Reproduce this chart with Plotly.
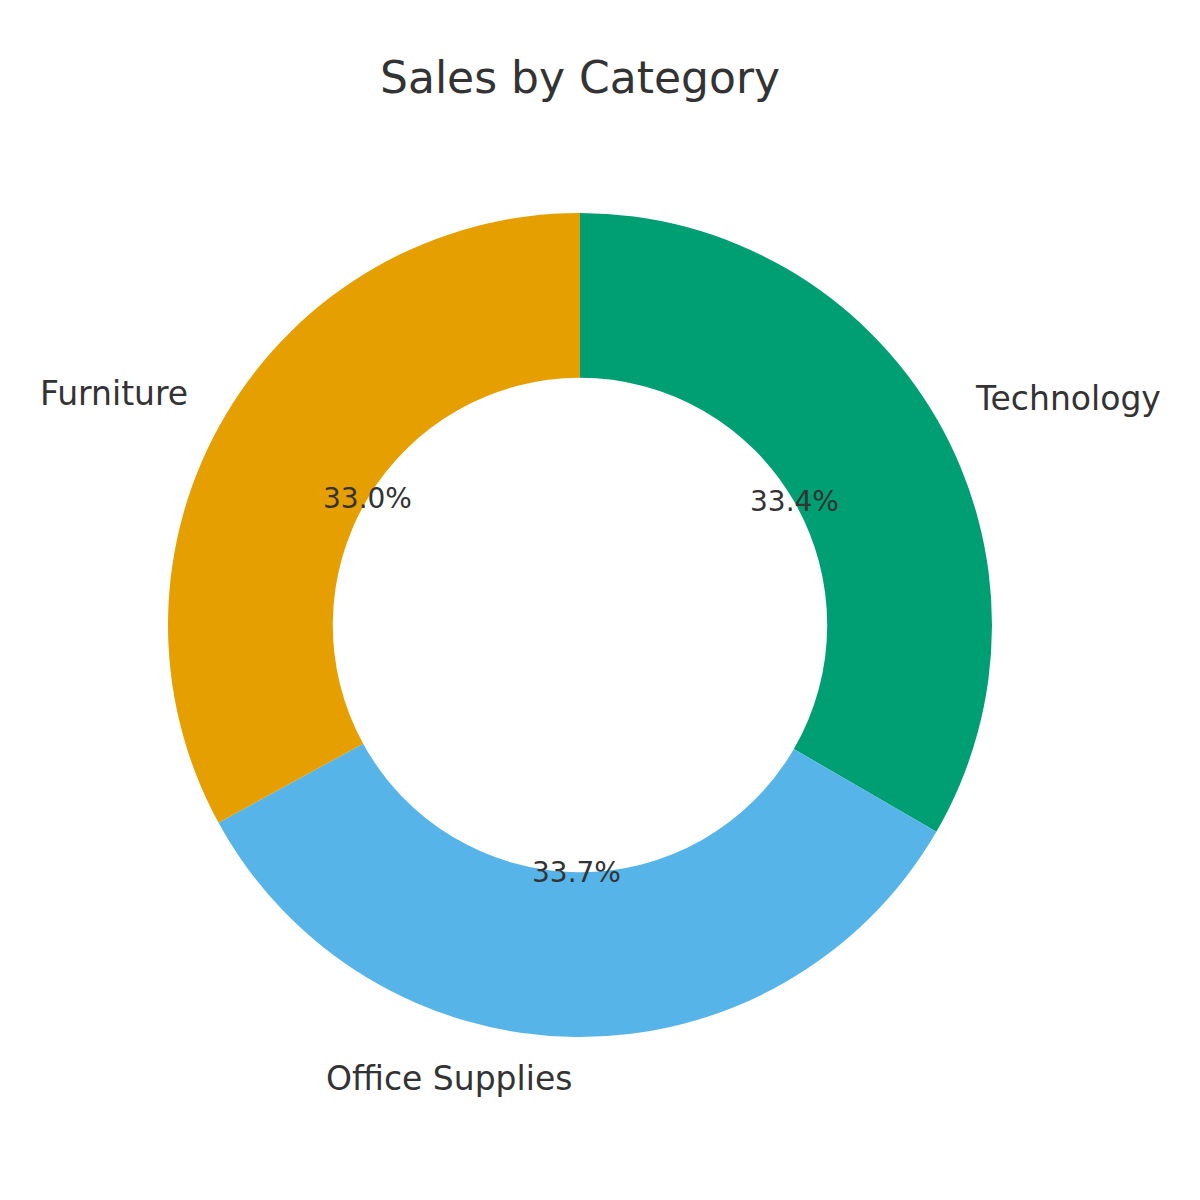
import numpy as np
import plotly.graph_objects as go

categories = ["Furniture", "Office Supplies", "Technology"]
sales_share = [33.0, 33.7, 33.4]
colors = ["#E69F00", "#56B4E9", "#009E73"]

W, H = 1200, 1200
cx, cy, R = 580, 625, 412
hole = 0.6
font = "DejaVu Sans"
txt_color = "#333333"

# Reference draws slices counter-clockwise starting at 12 o'clock;
# equivalent in Plotly: clockwise from 12 o'clock with reversed order.
fig = go.Figure(go.Pie(
    labels=categories[::-1],
    values=sales_share[::-1],
    marker=dict(colors=colors[::-1], line=dict(width=0)),
    hole=hole,
    sort=False,
    direction="clockwise",
    rotation=0,
    textinfo="none",
    hoverinfo="label+percent",
    showlegend=False,
    domain=dict(x=[(cx - R) / W, (cx + R) / W],
                y=[1 - (cy + R) / H, 1 - (cy - R) / H]),
))

vals = np.array(sales_share, dtype=float)
frac = vals / vals.sum()
cum = np.concatenate([[0], np.cumsum(frac)])
mid = np.deg2rad(90 + 360 * (cum[:-1] + frac / 2))

annotations = []
for lab, f, a in zip(categories, frac, mid):
    # percentage text at 0.6 R
    px = cx + 0.6 * R * np.cos(a)
    py = cy - 0.6 * R * np.sin(a)
    annotations.append(dict(x=px / W, y=1 - py / H, xref="paper", yref="paper",
                            text=f"{100 * f:.1f}%", showarrow=False,
                            xanchor="center", yanchor="middle",
                            font=dict(family=font, size=28, color=txt_color)))
    lx = cx + 1.1 * R * np.cos(a)
    ly = cy - 1.1 * R * np.sin(a)
    annotations.append(dict(x=lx / W, y=1 - ly / H, xref="paper", yref="paper",
                            text=lab, showarrow=False,
                            xanchor="left" if np.cos(a) > 0 else "right",
                            yanchor="middle",
                            font=dict(family=font, size=33, color=txt_color)))

annotations.append(dict(x=cx / W, y=1 - 78 / H, xref="paper", yref="paper",
                        text="Sales by Category", showarrow=False,
                        xanchor="center", yanchor="middle",
                        font=dict(family=font, size=44, color=txt_color)))

fig.update_layout(
    width=W, height=H,
    margin=dict(l=0, r=0, t=0, b=0),
    paper_bgcolor="white", plot_bgcolor="white",
    annotations=annotations,
)

fig.write_html("out.html")
